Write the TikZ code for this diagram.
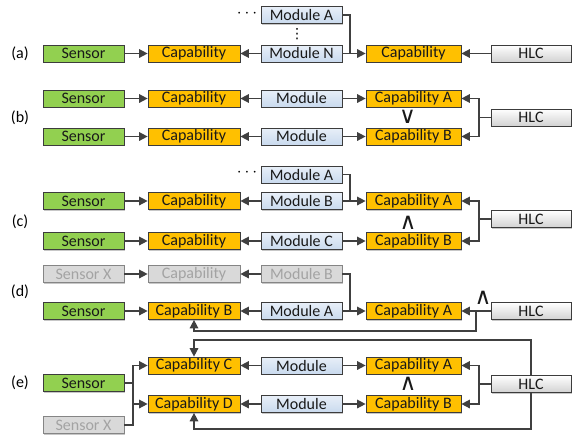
\documentclass[tikz,border=0pt]{standalone}
\usepackage{fontspec}
\setmainfont{Carlito}
\newfontfamily\symfont{DejaVu Sans}
\usetikzlibrary{arrows.meta,shadows}

\definecolor{linec}{HTML}{404040}
\definecolor{boxline}{HTML}{3C3C3C}
\definecolor{sensorgreen}{HTML}{92D050}
\definecolor{capor}{HTML}{FFC000}
\definecolor{modtop}{HTML}{E8EFF8}
\definecolor{modbot}{HTML}{C9DAEE}
\definecolor{hlcbot}{HTML}{D2D2D2}
\definecolor{greyfill}{HTML}{D9D9D9}
\definecolor{greyline}{HTML}{858585}
\definecolor{greytext}{HTML}{A3A3A3}

\tikzset{
  box/.style={draw=boxline, line width=0.7pt, minimum height=17pt, inner sep=0pt,
    text=black!90, font=\fontsize{16}{16}\selectfont,
    drop shadow={shadow xshift=1.2pt, shadow yshift=-1.2pt, opacity=0.22, fill=black}},
  sensorbox/.style={box, fill=sensorgreen, minimum width=81pt},
  capbox/.style={box, fill=capor, minimum width=92pt},
  caprbox/.style={box, fill=capor, minimum width=95pt},
  modbox/.style={box, top color=modtop, bottom color=modbot, minimum width=81pt},
  hlcbox/.style={box, top color=white, bottom color=hlcbot, minimum width=80pt},
  greyed/.style={draw=greyline, fill=greyfill, text=greytext},
  arr/.style={draw=linec, line width=1.5pt, -{Triangle[length=8.5pt,width=8.5pt]}},
  conn/.style={draw=linec, line width=1.5pt},
  lbl/.style={font=\fontsize{16}{16}\selectfont, inner sep=0pt},
  logic/.style={font=\symfont\fontsize{23}{23}\selectfont, inner sep=0pt, text=black!90},
  vdot/.style={font=\symfont\fontsize{14}{14}\selectfont, inner sep=0pt}
}

\begin{document}
\begin{tikzpicture}[x=1pt,y=-1pt]
\useasboundingbox (0,0) rectangle (572,434);

% ---------- (a) ----------
\node[lbl] (la) at (20,53.5) {(a)};
\node[sensorbox] (sa) at (83.5,53.5) {Sensor};
\node[capbox] (ca) at (194,53.5) {Capability};
\node[modbox] (mna) at (301.5,53.5) {Module N};
\node[modbox] (maa) at (301.5,15) {Module A};
\node[lbl] (dotsa) at (247,13.5) {$\cdots$};
\node[vdot] (vdotsa) at (297,34) {⋮};
\node[caprbox] (cra) at (413.5,53.5) {Capability};
\node[hlcbox] (ha) at (531,53.5) {HLC};
\coordinate (ja) at (350,53.5);
\draw[arr] (sa) -- (ca);
\draw[arr] (mna) -- (ca);
\draw[conn] (maa.east) -| (ja);
\draw[arr] (mna.east) -- (cra.west);
\draw[arr] (ha) -- (cra);

% ---------- (b) ----------
\node[lbl] (lb) at (20,118) {(b)};
\node[sensorbox] (sb1) at (83.5,98.5) {Sensor};
\node[capbox] (cb1) at (194,98.5) {Capability};
\node[modbox] (mb1) at (301.5,98.5) {Module};
\node[caprbox] (crb1) at (413.5,98.5) {Capability A};
\node[sensorbox] (sb2) at (83.5,136.5) {Sensor};
\node[capbox] (cb2) at (194,136.5) {Capability};
\node[modbox] (mb2) at (301.5,136.5) {Module};
\node[caprbox] (crb2) at (413.5,136.5) {Capability B};
\node[hlcbox] (hb) at (531,117.5) {HLC};
\node[logic] (orb) at (407.5,116.5) {∨};
\coordinate (jb) at (479,117.5);
\draw[arr] (sb1) -- (cb1);
\draw[arr] (mb1) -- (cb1);
\draw[arr] (mb1) -- (crb1);
\draw[arr] (sb2) -- (cb2);
\draw[arr] (mb2) -- (cb2);
\draw[arr] (mb2) -- (crb2);
\draw[conn] (hb.west) -- (jb);
\draw[arr] (jb) |- (crb1.east);
\draw[arr] (jb) |- (crb2.east);

% ---------- (c) ----------
\node[lbl] (lc) at (20,222) {(c)};
\node[modbox] (mac) at (301.5,174.5) {Module A};
\node[lbl] (dotsc) at (247,173) {$\cdots$};
\node[sensorbox] (sc1) at (83.5,201) {Sensor};
\node[capbox] (cc1) at (194,201) {Capability};
\node[modbox] (mbc) at (301.5,201) {Module B};
\node[caprbox] (crc1) at (413.5,201) {Capability A};
\node[sensorbox] (sc2) at (83.5,241) {Sensor};
\node[capbox] (cc2) at (194,241) {Capability};
\node[modbox] (mcc) at (301.5,241) {Module C};
\node[caprbox] (crc2) at (413.5,241) {Capability B};
\node[hlcbox] (hc) at (531,219) {HLC};
\node[logic] (andc) at (408,222.5) {∧};
\coordinate (jc1) at (350,201);
\coordinate (jc) at (479,219);
\draw[arr] (sc1) -- (cc1);
\draw[arr] (mbc) -- (cc1);
\draw[conn] (mac.east) -| (jc1);
\draw[arr] (mbc) -- (crc1);
\draw[arr] (sc2) -- (cc2);
\draw[arr] (mcc) -- (cc2);
\draw[arr] (mcc) -- (crc2);
\draw[conn] (hc.west) -- (jc);
\draw[arr] (jc) |- (crc1.east);
\draw[arr] (jc) |- (crc2.east);

% ---------- (d) ----------
\node[lbl] (ld) at (20,292) {(d)};
\node[sensorbox, greyed] (sxd) at (83.5,274) {Sensor X};
\node[capbox, greyed] (cxd) at (194,274) {Capability};
\node[modbox, greyed, top color=greyfill, bottom color=greyfill] (mbd) at (301.5,274) {Module B};
\node[sensorbox] (sd) at (83.5,311) {Sensor};
\node[capbox] (cd) at (194,311) {Capability B};
\node[modbox] (mad) at (301.5,311) {Module A};
\node[caprbox] (crd) at (413.5,311) {Capability A};
\node[hlcbox] (hd) at (531,311) {HLC};
\node[logic] (andd) at (483,298) {∧};
\coordinate (jd1) at (350,311);
\coordinate (jd) at (476,311);
\coordinate (fd) at (476,331);
\draw[arr] (sxd) -- (cxd);
\draw[arr] (mbd) -- (cxd);
\draw[conn] (mbd.east) -| (jd1);
\draw[arr] (sd) -- (cd);
\draw[arr] (mad) -- (cd);
\draw[arr] (mad) -- (crd);
\draw[arr] (hd) -- (crd);
\draw[arr] (jd) -- (fd) -| (cd.south);

% ---------- (e) ----------
\node[lbl] (le) at (20,383) {(e)};
\node[capbox] (cce) at (194,365.5) {Capability C};
\node[modbox] (m1e) at (301.5,365.5) {Module};
\node[caprbox] (crae) at (413.5,365.5) {Capability A};
\node[sensorbox] (se) at (83.5,383) {Sensor};
\node[capbox] (cde) at (194,404) {Capability D};
\node[modbox] (m2e) at (301.5,404) {Module};
\node[caprbox] (crbe) at (413.5,404) {Capability B};
\node[sensorbox, greyed] (sxe) at (83.5,425) {Sensor X};
\node[hlcbox] (he) at (531,384) {HLC};
\node[logic] (ande) at (408,384) {∧};
\coordinate (fe) at (133,383);
\coordinate (je) at (479,384);
\coordinate (te) at (531,340);
\coordinate (be) at (531,429);
\draw[conn] (se.east) -- (fe);
\draw[conn] (sxe.east) -| (fe);
\draw[arr] (fe) |- (cce.west);
\draw[arr] (fe) |- (cde.west);
\draw[arr] (m1e) -- (cce);
\draw[arr] (m1e) -- (crae);
\draw[arr] (m2e) -- (cde);
\draw[arr] (m2e) -- (crbe);
\draw[conn] (he.west) -- (je);
\draw[arr] (je) |- (crae.east);
\draw[arr] (je) |- (crbe.east);
\draw[arr] (he.north) -- (te) -| (cce.north);
\draw[arr] (he.south) -- (be) -| (cde.south);
\end{tikzpicture}
\end{document}
